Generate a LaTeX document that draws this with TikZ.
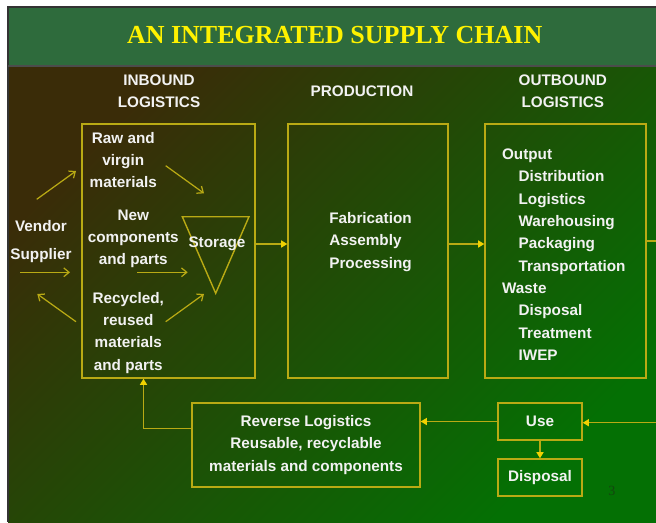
\documentclass[tikz,border=0pt]{standalone}
\usepackage{fontspec}
\setmainfont{Liberation Sans}
\newfontfamily\titlefont{Liberation Serif}
\usetikzlibrary{arrows.meta}
\definecolor{titlegreen}{RGB}{46,107,60}
\definecolor{bodytop}{RGB}{58,44,8}
\definecolor{bodybot}{RGB}{4,112,4}
\definecolor{linegold}{RGB}{185,170,20}
\definecolor{tipgold}{RGB}{240,210,0}
\definecolor{textwhite}{RGB}{242,242,242}
\definecolor{pagegreen}{RGB}{20,70,15}

\begin{document}
\begin{tikzpicture}[x=0.02cm,y=-0.02cm,
  box/.style={draw=linegold,line width=0.8pt,inner sep=0pt},
  txt/.style={text=textwhite,font=\fontsize{8.7}{12.7}\selectfont\bfseries,inner sep=0pt},
  link/.style={draw=linegold,line width=0.8pt,-{Triangle[length=3.5pt,width=4pt,color=tipgold]}},
  flow/.style={draw=linegold,line width=0.7pt,-{Straight Barb[length=3pt,width=5pt]}}]
% Slide background
\useasboundingbox (0,0) rectangle (656,522);
\fill[white] (0,0) rectangle (656,522);
\shade[top color=bodytop,bottom color=bodybot,shading angle=45] (8,66) rectangle (656,522);
\fill[titlegreen] (8,7) rectangle (656,66);
\draw[black!80,line width=1pt] (656,7) -- (8,7) -- (8,522);
\draw[black!70,line width=0.8pt] (8,66) -- (656,66);
\node[text=yellow,font=\titlefont\fontsize{14.8}{17}\selectfont\bfseries,inner sep=0pt] (title) at (334.7,35) {AN INTEGRATED SUPPLY CHAIN};
% Column headings
\node[txt,align=center] (hin) at (159,91.3) {INBOUND\\LOGISTICS};
\node[txt] (hpro) at (362,91.7) {PRODUCTION};
\node[txt,align=center] (hout) at (562.8,91.3) {OUTBOUND\\LOGISTICS};
% The boxes
\node[box,minimum width=3.46cm,minimum height=5.08cm] (inb) at (168.5,251) {};
\node[box,minimum width=3.2cm,minimum height=5.08cm] (prod) at (368,251) {};
\node[box,minimum width=3.22cm,minimum height=5.08cm] (outb) at (565.5,251) {};
\node[box,txt,align=center,minimum width=4.56cm,minimum height=1.68cm] (rev) at (306,445) {Reverse Logistics\\Reusable, recyclable\\materials and components};
\node[box,txt,minimum width=1.68cm,minimum height=0.74cm] (use) at (540,421.5) {Use};
\node[box,txt,minimum width=1.68cm,minimum height=0.74cm] (disp) at (540,477.5) {Disposal};
% Inbound contents
\node[txt,align=center] (vend) at (41,241.5) {Vendor\\[2.8pt]Supplier};
\node[txt,align=center] (raw) at (123.3,160) {Raw and\\virgin\\materials};
\node[txt,align=center] (new) at (133.3,239) {New\\components\\and parts};
\node[txt,align=center] (rec) at (128.3,332.7) {Recycled,\\reused\\materials\\and parts};
\draw[box] (182.3,216.7) -- (249,216.7) -- (215.7,293.3) -- cycle;
\node[txt] (sto) at (217,244) {Storage};
\foreach \n/\xa/\ya/\xb/\yb in {va/36.7/199.3/76/171, vb/20/272.3/70/272.3, vc/76/321.7/37.3/294,
  sa/165.7/165.7/204/193.3, sb/137.3/272.3/187.7/272.3, sc/165.7/321.7/204/294} {
  \coordinate (\n1) at (\xa,\ya);
  \coordinate (\n2) at (\xb,\yb);
  \draw[flow] (\n1) -- (\n2);
}
% Production and outbound contents
\node[txt,align=left,anchor=west] (fab) at (329,242) {Fabrication\\Assembly\\Processing};
\node[txt,align=left,anchor=west] (outl) at (501.7,254.7) {Output\\\hspace*{9.4pt}Distribution\\\hspace*{9.4pt}Logistics\\\hspace*{9.4pt}Warehousing\\\hspace*{9.4pt}Packaging\\\hspace*{9.4pt}Transportation\\Waste\\\hspace*{9.4pt}Disposal\\\hspace*{9.4pt}Treatment\\\hspace*{9.4pt}IWEP};
\node[text=pagegreen,font=\titlefont\fontsize{8}{9}\selectfont,inner sep=0pt] (pnum) at (612,491) {3};
% Connectors
\draw[link] (inb.east |- sto) -- (prod.west |- sto);
\draw[link] (prod.east |- sto) -- (outb.west |- sto);
\begin{scope}
\clip (0,0) rectangle (656,522);
\coordinate (loopa) at (670,241);
\coordinate (loopb) at (670,422.7);
\draw[link] (outb.east |- loopa) -- (loopa) -- (loopb) -- (use.east |- loopb);
\end{scope}
\draw[link] (use.west) -- (rev.east |- use.west);
\draw[link] (use.south) -- (disp.north);
\draw[link] ([yshift=0.326cm]rev.west) -| ([xshift=-0.5cm]inb.south);
\end{tikzpicture}
\end{document}
